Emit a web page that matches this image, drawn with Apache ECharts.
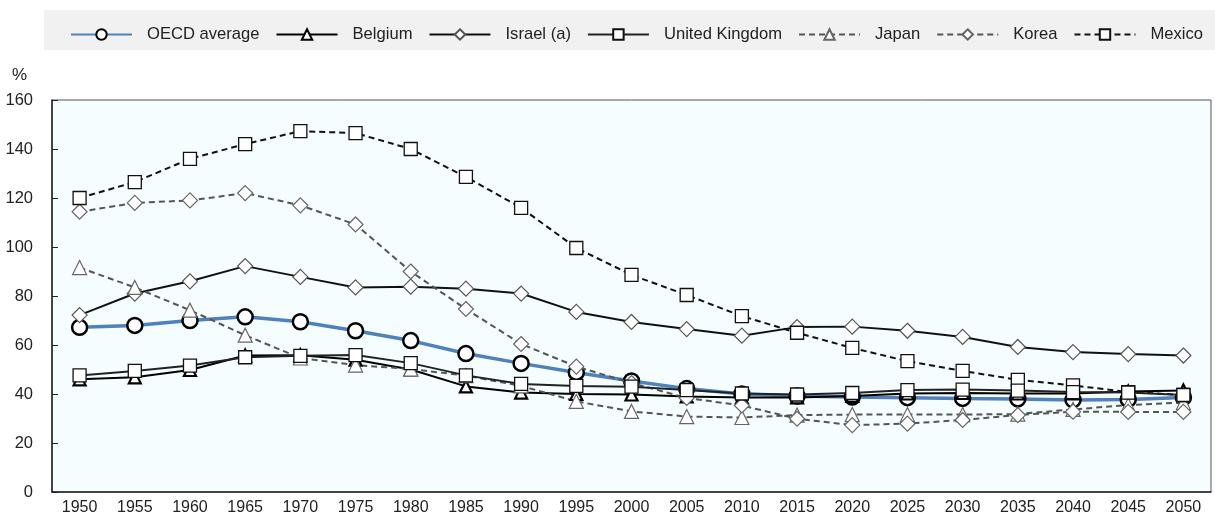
<!DOCTYPE html>
<html>
<head>
<meta charset="utf-8">
<script src="https://cdn.jsdelivr.net/npm/echarts@6/dist/echarts.min.js"></script>
<style>
html,body{margin:0;padding:0;background:#fff;}
#chart{width:1215px;height:517px;}
</style>
</head>
<body>
<div id="chart"></div>
<script>
const years = ['1950','1955','1960','1965','1970','1975','1980','1985','1990','1995','2000','2005','2010','2015','2020','2025','2030','2035','2040','2045','2050'];
const oecd    = [67.2,68.0,70.0,71.5,69.5,65.8,61.8,56.5,52.5,48.8,45.3,42.2,40.0,39.2,38.8,38.5,38.2,38.0,37.6,37.8,38.6];
const belgium = [46.0,46.8,49.8,55.7,55.8,54.0,50.0,43.1,40.6,40.0,39.8,39.0,38.6,38.6,39.2,40.2,40.4,40.2,40.2,41.0,41.4];
const israel  = [72.2,81.0,86.0,92.2,87.8,83.5,83.8,83.0,81.0,73.5,69.4,66.5,63.8,67.3,67.5,65.8,63.3,59.2,57.1,56.3,55.7];
const uk      = [47.6,49.4,51.6,55.0,55.6,55.9,52.6,47.6,44.1,43.3,43.0,41.6,40.2,39.8,40.4,41.6,41.8,41.4,40.8,40.6,39.6];
const japan   = [91.6,83.5,74.2,64.0,54.7,51.8,50.2,47.5,43.3,37.0,32.9,30.8,30.4,31.4,31.6,31.6,31.6,31.8,33.7,35.5,36.5];
const korea   = [114.4,118.0,119.0,122.0,117.0,109.2,90.0,74.7,60.4,51.2,44.5,38.4,35.3,29.9,27.3,27.9,29.4,31.4,32.8,32.7,32.7];
const mexico  = [120.0,126.5,136.0,142.0,147.3,146.5,140.0,128.6,116.0,99.6,88.6,80.4,71.8,65.0,58.8,53.4,49.4,45.8,43.5,40.8,39.6];
const yTicks = [0,20,40,60,80,100,120,140,160];

const FONT = "'Liberation Sans Narrow','Arial Narrow','Liberation Sans',sans-serif";
const chart = echarts.init(document.getElementById('chart'), null, {renderer:'canvas'});

function mk(name, data, o){
  return {
    name, type:'line', data, smooth:false, showSymbol:true,
    symbol:o.symbol, symbolSize:o.size, z:o.z,
    lineStyle:{color:o.line, width:o.lw, type:o.dash||'solid'},
    itemStyle:{color:'#ffffff', borderColor:o.mborder, borderWidth:o.bw},
    emphasis:{disabled:true},
    animation:false
  };
}

const option = {
  animation:false,
  backgroundColor:'#ffffff',
  textStyle:{fontFamily:FONT},
  graphic:[
    {type:'rect', left:44, top:10, shape:{width:1171, height:40}, style:{fill:'#f1f1f1'}, z:-1},
    {type:'text', left:12, top:67, style:{text:'%', font:'17px '+FONT, fill:'#222'}}
  ],
  legend:{
    left:65, top:21, itemWidth:61, itemHeight:13, itemGap:16,
    textStyle:{fontFamily:FONT, fontSize:16.6, color:'#222', padding:[0,0,0,10]},
    data:['OECD average','Belgium','Israel (a)','United Kingdom','Japan','Korea','Mexico']
  },
  grid:{left:52, right:4, top:100, bottom:25, show:true, backgroundColor:'#f5fdfe', borderColor:'#555', borderWidth:1},
  xAxis:{
    type:'category', data:years, boundaryGap:true,
    axisLine:{lineStyle:{color:'#222', width:1.5}},
    axisTick:{inside:true, alignWithLabel:false, length:6, lineStyle:{color:'#222'}},
    axisLabel:{fontFamily:FONT, fontSize:16, color:'#222', margin:8},
    splitLine:{show:false}
  },
  yAxis:{
    type:'value', min:0, max:160, interval:20,
    axisLine:{show:true, lineStyle:{color:'#222', width:1.5}},
    axisTick:{show:true, inside:true, length:6, lineStyle:{color:'#222'}},
    axisLabel:{fontFamily:FONT, fontSize:16.5, color:'#222', margin:19},
    splitLine:{show:false}
  },
  series:[
    mk('OECD average', oecd, {symbol:'circle', size:15, line:'#4f81bd', lw:3.5, mborder:'#000', bw:2.5, z:2}),
    mk('Belgium', belgium, {symbol:'triangle', size:12, line:'#000', lw:2, mborder:'#000', bw:2.2, z:3}),
    mk('Israel (a)', israel, {symbol:'diamond', size:15, line:'#111', lw:2, mborder:'#555', bw:1.2, z:3}),
    mk('United Kingdom', uk, {symbol:'rect', size:13, line:'#222', lw:2, mborder:'#111', bw:1.3, z:4}),
    mk('Japan', japan, {symbol:'triangle', size:14, line:'#555', lw:2, dash:[6,4], mborder:'#666', bw:1.2, z:3}),
    mk('Korea', korea, {symbol:'diamond', size:15, line:'#555', lw:2, dash:[6,4], mborder:'#666', bw:1.2, z:3}),
    mk('Mexico', mexico, {symbol:'rect', size:13, line:'#111', lw:2, dash:[6,4], mborder:'#111', bw:1.3, z:3})
  ]
};
chart.setOption(option);
</script>
</body>
</html>
